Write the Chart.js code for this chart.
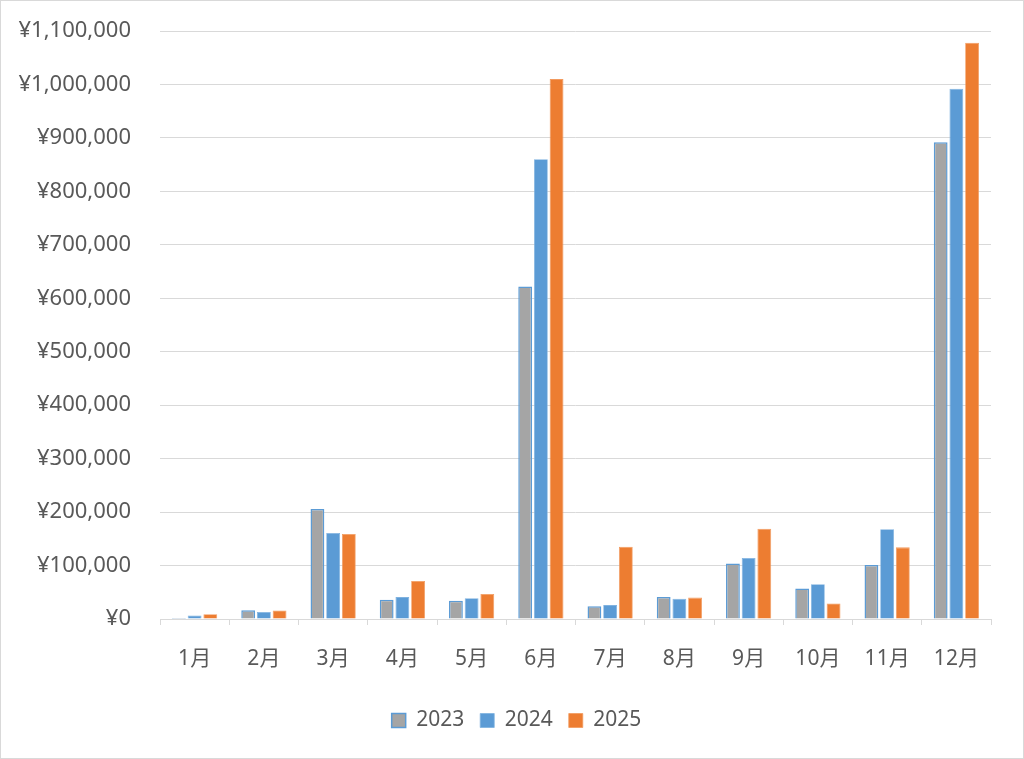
<!DOCTYPE html>
<html>
<head>
<meta charset="utf-8">
<script src="https://cdn.jsdelivr.net/npm/chart.js@4.4.1/dist/chart.umd.min.js"></script>
<style>
html,body{margin:0;padding:0;background:#fff;}
#wrap{width:1024px;height:759px;position:relative;}
</style>
</head>
<body>
<div id="wrap"><canvas id="c" width="1024" height="759"></canvas></div>
<script>
const categories = ['1月','2月','3月','4月','5月','6月','7月','8月','9月','10月','11月','12月'];
const seriesNames = ['2023','2024','2025'];
const values2023 = [2000, 16500, 206000, 36000, 34000, 622000, 24000, 41000, 104000, 57000, 101000, 892000];
const values2024 = [6500, 13000, 161000, 41000, 39000, 860000, 26000, 38000, 114000, 65000, 168000, 992000];
const values2025 = [9000, 16000, 159000, 71000, 47000, 1010000, 135000, 40000, 169000, 29000, 134000, 1078000];
const yMax = 1100000;
const yStep = 100000;

const FONT = "'Noto Sans', 'Noto Sans CJK JP', sans-serif";

const bgPlugin = {
  id: 'bg',
  afterLayout(chart) {
    if (chart.legend) {
      chart.legend.left += 21;
      chart.legend.right += 21;
    }
  },
  beforeDraw(chart) {
    const ctx = chart.ctx;
    ctx.save();
    ctx.fillStyle = '#ffffff';
    ctx.fillRect(0, 0, chart.width, chart.height);
    ctx.strokeStyle = '#d9d9d9';
    ctx.lineWidth = 1;
    ctx.strokeRect(0.5, 0.5, chart.width - 1, chart.height - 1);
    ctx.restore();
  }
};

new Chart(document.getElementById('c'), {
  type: 'bar',
  data: {
    labels: categories,
    datasets: [
      { label: seriesNames[0], data: values2023, backgroundColor: '#A5A5A5', borderColor: '#5B9BD5', borderWidth: 1.5 },
      { label: seriesNames[1], data: values2024, backgroundColor: '#5B9BD5', borderColor: '#7FB2E0', borderWidth: 0.8 },
      { label: seriesNames[2], data: values2025, backgroundColor: '#ED7D31', borderColor: '#F29A5E', borderWidth: 0.8 }
    ]
  },
  options: {
    responsive: false,
    animation: false,
    devicePixelRatio: 1,
    layout: { padding: { left: 0, right: 33, top: 31, bottom: 18 } },
    datasets: { bar: { categoryPercentage: 0.68, barPercentage: 0.88 } },
    plugins: {
      legend: {
        position: 'bottom',
        labels: {
          font: { family: FONT, size: 21 },
          color: '#595959',
          boxWidth: 14,
          boxHeight: 14,
          padding: 16
        }
      },
      tooltip: { enabled: false }
    },
    scales: {
      x: {
        grid: { display: true, drawOnChartArea: false, drawTicks: true, tickLength: 6, color: '#d9d9d9', offset: true },
        border: { display: true, color: '#d9d9d9' },
        ticks: { font: { family: FONT, size: 21 }, color: '#595959', padding: 21 },
        afterFit(scale) { scale.height = 75; }
      },
      y: {
        min: 0,
        max: yMax,
        grid: { color: '#d9d9d9', drawTicks: false },
        border: { display: false },
        ticks: {
          stepSize: yStep,
          font: { family: FONT, size: 22 },
          color: '#595959',
          padding: 29,
          callback: v => '¥' + Number(v).toLocaleString('en-US')
        },
        afterFit(scale) { scale.width = 160; scale.paddingTop = 0; scale.paddingBottom = 0; }
      }
    }
  },
  plugins: [bgPlugin]
});
</script>
</body>
</html>
